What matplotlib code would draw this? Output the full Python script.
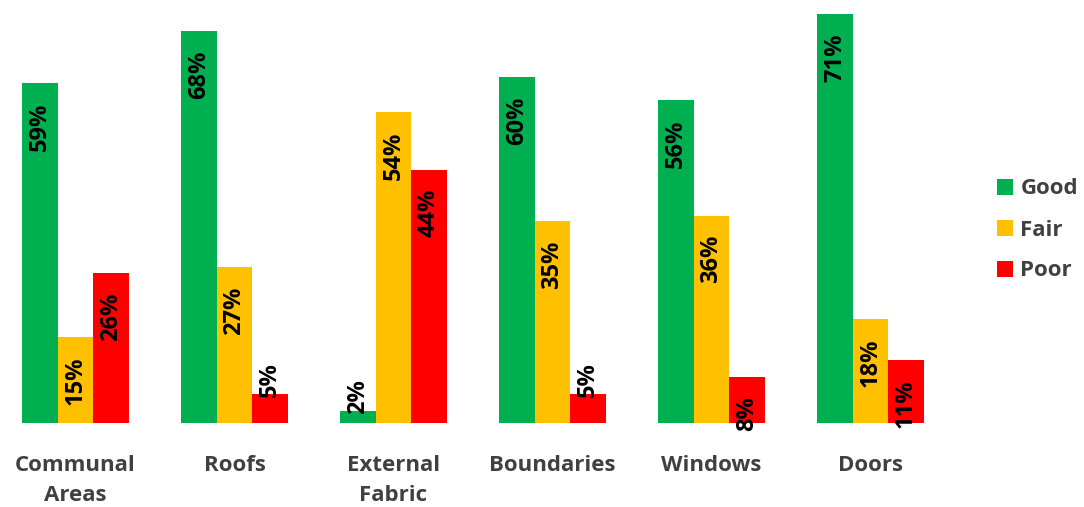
import numpy as np
import matplotlib.pyplot as plt

plt.rcParams["font.family"] = ["Open Sans", "DejaVu Sans"]

categories = ["Communal\nAreas", "Roofs", "External\nFabric", "Boundaries", "Windows", "Doors"]
series = ["Good", "Fair", "Poor"]
good = [59, 68, 2, 60, 56, 71]
fair = [15, 27, 54, 35, 36, 18]
poor = [26, 5, 44, 5, 8, 11]
colors = ["#00B050", "#FFC000", "#FF0000"]

fig = plt.figure(figsize=(10.84, 5.07), dpi=100)
ax = fig.add_axes([0, 84 / 507, 950 / 1084, 423 / 507])

x = np.arange(len(categories))
width = 0.223
for i, (name, vals, col) in enumerate(zip(series, [good, fair, poor], colors)):
    xs = x + (i - 1) * width
    ax.bar(xs, vals, width, color=col, label=name)
    for xi, v in zip(xs, vals):
        if v < 6:
            # small bars: Excel pushes the label up around the bar end
            ax.annotate(f"{v}%", (xi, v), xytext=(0, -2), textcoords="offset points",
                        rotation=90, ha="center", va="bottom",
                        fontsize=17, fontweight="bold", color="black")
        else:
            ax.annotate(f"{v}%", (xi, v), xytext=(0, -14), textcoords="offset points",
                        rotation=90, ha="center", va="top",
                        fontsize=17, fontweight="bold", color="black")

ax.set_xlim(-75.5 / 159, (950 - 75.5) / 159)
ax.set_ylim(0, 71 * 423 / 409)
ax.set_xticks(x)
ax.set_xticklabels(categories, fontsize=16, fontweight="bold", color="#404040")
for t in ax.get_xticklabels():
    t.set_linespacing(1.55)
ax.tick_params(axis="x", length=0, pad=23)
ax.set_yticks([])
for s in ax.spines.values():
    s.set_visible(False)

fig.legend(loc="center left", bbox_to_anchor=(997 / 1084, 1 - 230 / 507),
           frameon=False, borderpad=0, borderaxespad=0,
           handlelength=0.73, handleheight=0.73, handletextpad=0.32,
           labelspacing=0.9, prop={"size": 16, "weight": "bold"}, labelcolor="#404040")

fig.savefig("out.png", dpi=100)
